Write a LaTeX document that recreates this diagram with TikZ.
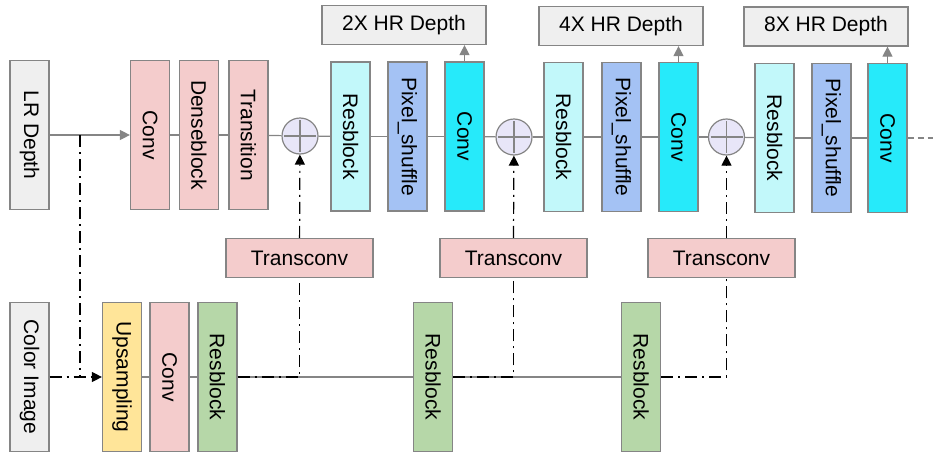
\documentclass[tikz,border=0pt]{standalone}
\usepackage{fontspec}
\setmainfont{Liberation Sans}
\usepackage{tikz}
\usetikzlibrary{positioning, arrows.meta}

\definecolor{boxline}{HTML}{858585}
\definecolor{greybox}{HTML}{EFEFEF}
\definecolor{pinkbox}{HTML}{F4CCCC}
\definecolor{aquabox}{HTML}{C2F8FA}
\definecolor{bluebox}{HTML}{A4C2F4}
\definecolor{cyanbox}{HTML}{26EAFA}
\definecolor{yellowbox}{HTML}{FFE599}
\definecolor{greenbox}{HTML}{B6D7A8}
\definecolor{sumfill}{HTML}{E8E6F8}

\newcommand{\lbl}{\fontsize{21}{25}\selectfont}
\newcommand{\vlbl}[1]{\rotatebox{-90}{#1}}

\tikzset{
    box/.style={draw=boxline, line width=1.2pt, inner sep=0pt, font=\lbl},
    vbox/.style={box, minimum width=39pt, minimum height=149pt},
    hbox/.style={box, minimum height=39pt},
    addnode/.style={circle, draw=boxline, line width=1.2pt, fill=sumfill, minimum size=36pt, inner sep=0pt,
        path picture={\draw[boxline, line width=1.2pt]
            ([yshift=-2pt]path picture bounding box.north) -- ([yshift=2pt]path picture bounding box.south)
            ([xshift=2pt]path picture bounding box.west) -- ([xshift=-2pt]path picture bounding box.east);}},
    flow/.style={draw=boxline, line width=1.2pt},
    skip/.style={draw=black, line width=1.2pt, dash pattern=on 12pt off 5pt on 2pt off 5pt},
    tip/.style={-{Triangle[length=10pt, width=10pt]}}
}

\begin{document}
\begin{tikzpicture}[x=1pt, y=-1pt]
    \useasboundingbox (0,0) rectangle (933,455);
    % inputs
    \node[vbox, fill=greybox] (lr) at (29.5,135) {\vlbl{LR Depth}};
    \node[vbox, fill=greybox] (color) at (29.5,377) {\vlbl{Color Image}};
    % depth branch
    \node[vbox, fill=pinkbox] (conv1) at (150,135) {\vlbl{Conv}};
    \node[vbox, fill=pinkbox] (dense) at (199,135) {\vlbl{Denseblock}};
    \node[vbox, fill=pinkbox] (trans) at (248.5,135) {\vlbl{Transition}};
    \node[addnode] (sum1) at (300,136) {};
    \node[vbox, fill=aquabox] (res1) at (350.5,136.5) {\vlbl{Resblock}};
    \node[vbox, fill=bluebox] (ps1) at (407.5,136.5) {\vlbl{Pixel\_shuffle}};
    \node[vbox, fill=cyanbox] (conv2) at (464.5,136.5) {\vlbl{Conv}};
    \node[addnode] (sum2) at (514,137) {};
    \node[vbox, fill=aquabox] (res2) at (563.5,137) {\vlbl{Resblock}};
    \node[vbox, fill=bluebox] (ps2) at (621.5,137) {\vlbl{Pixel\_shuffle}};
    \node[vbox, fill=cyanbox] (conv3) at (678.5,137) {\vlbl{Conv}};
    \node[addnode] (sum3) at (726.5,137) {};
    \node[vbox, fill=aquabox] (res3) at (774.5,138) {\vlbl{Resblock}};
    \node[vbox, fill=bluebox] (ps3) at (831.5,138) {\vlbl{Pixel\_shuffle}};
    \node[vbox, fill=cyanbox] (conv4) at (887.5,138) {\vlbl{Conv}};
    \coordinate (more) at (933,138);
    % outputs
    \node[hbox, fill=greybox, minimum width=164pt] (hr2) at (404,25) {2X HR Depth};
    \node[hbox, fill=greybox, minimum width=164pt] (hr4) at (621,26) {4X HR Depth};
    \node[hbox, fill=greybox, minimum width=164pt] (hr8) at (826,26.5) {8X HR Depth};
    % colour branch
    \node[vbox, fill=yellowbox] (ups) at (122,377) {\vlbl{Upsampling}};
    \node[vbox, fill=pinkbox] (conv5) at (169.5,377) {\vlbl{Conv}};
    \node[vbox, fill=greenbox] (resb1) at (217.5,377) {\vlbl{Resblock}};
    \node[vbox, fill=greenbox] (resb2) at (433,377) {\vlbl{Resblock}};
    \node[vbox, fill=greenbox] (resb3) at (641,377) {\vlbl{Resblock}};
    \node[hbox, fill=pinkbox, minimum width=147pt] (tc1) at (299.5,258) {Transconv};
    \node[hbox, fill=pinkbox, minimum width=147pt] (tc2) at (513.5,258) {Transconv};
    \node[hbox, fill=pinkbox, minimum width=147pt] (tc3) at (721.5,258) {Transconv};
    \coordinate (split) at (80,135);

    \draw[flow, tip] (lr) -- (conv1);
    \path[flow]
    (conv1) edge (dense) (dense) edge (trans) (trans) edge (sum1)
    (sum1) edge (res1) (res1) edge (ps1) (ps1) edge (conv2) (conv2) edge (sum2)
    (sum2) edge (res2) (res2) edge (ps2) (ps2) edge (conv3) (conv3) edge (sum3)
    (sum3) edge (res3) (res3) edge (ps3) (ps3) edge (conv4)
    (ups) edge (conv5) (conv5) edge (resb1) (resb1) edge (resb2) (resb2) edge (resb3);
    \draw[flow, dash pattern=on 6pt off 4pt] (conv4) -- (more);
    \draw[flow, tip] (conv2.north) -- (conv2.north |- hr2.south);
    \draw[flow, tip] (conv3.north) -- (conv3.north |- hr4.south);
    \draw[flow, tip] (conv4.north) -- (conv4.north |- hr8.south);
    % skip paths
    \draw[skip] (split) -- (split |- color.east);
    \draw[skip, tip] (color) -- (ups);
    \draw[skip] (resb1) -- (tc1.south |- resb1.east) -- (tc1.south);
    \draw[skip] (resb2) -- (tc2.south |- resb2.east) -- (tc2.south);
    \draw[skip] (resb3) -- (sum3 |- resb3.east) -- (sum3 |- tc3.south);
    \draw[skip, tip] (tc1) -- (sum1);
    \draw[skip, tip] (tc2.north) -- (sum2);
    \draw[skip, tip] (sum3 |- tc3.north) -- (sum3);
\end{tikzpicture}
\end{document}
